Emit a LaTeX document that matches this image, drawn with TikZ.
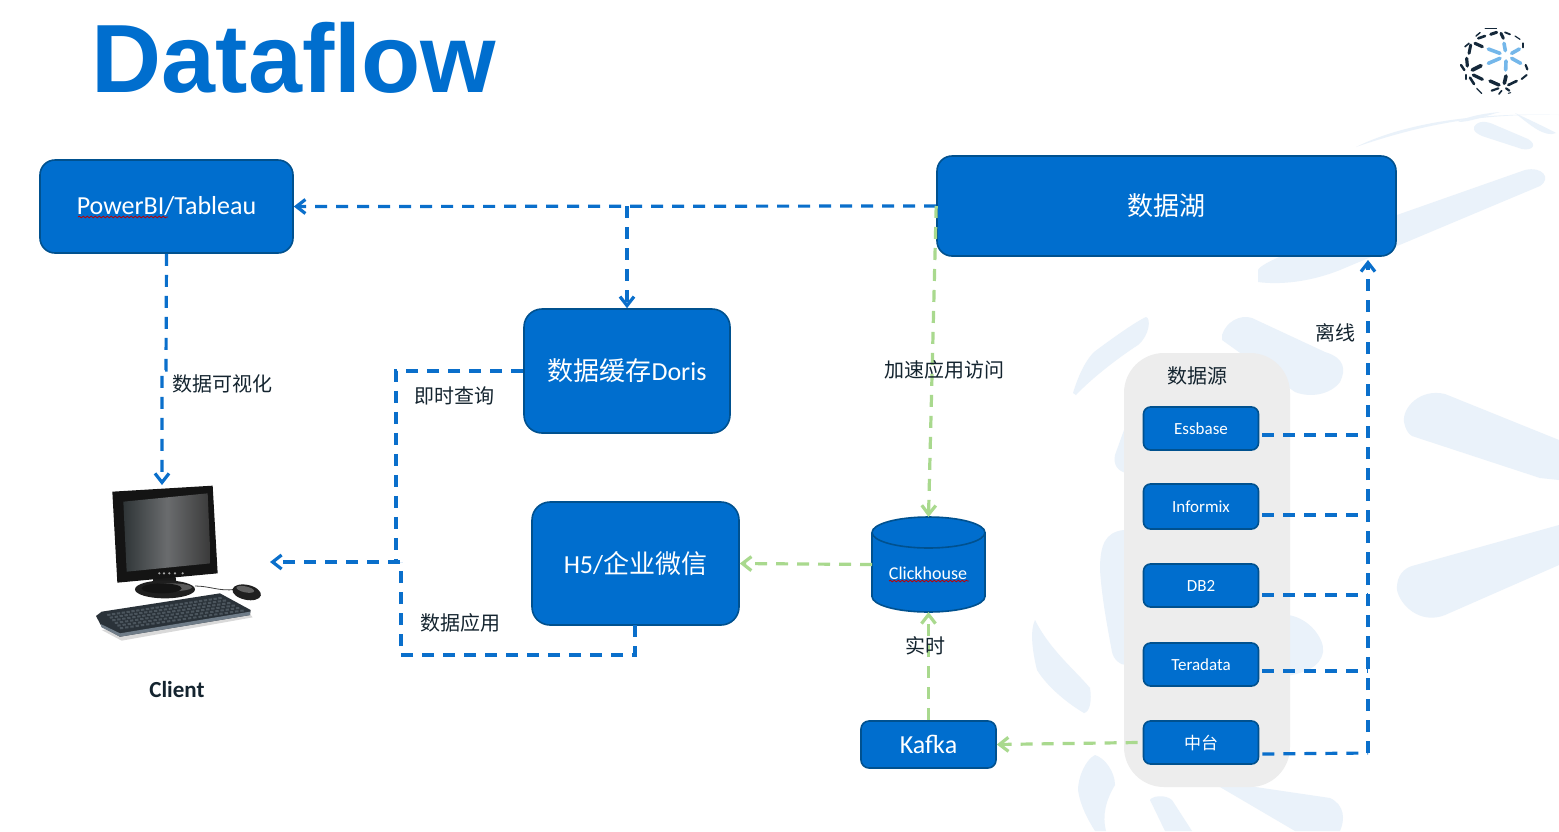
\documentclass[tikz,border=0pt]{standalone}
\usepackage{fontspec}
\setmainfont{Carlito}
\newfontfamily\cjkf{Noto Sans CJK SC}
\newfontfamily\titlef{Liberation Sans}
\usetikzlibrary{arrows.meta,decorations.pathmorphing,calc}
\definecolor{nodeblue}{HTML}{006ECE}
\definecolor{nodeedge}{HTML}{00518F}
\definecolor{flowblue}{HTML}{0A6FCB}
\definecolor{flowgreen}{HTML}{A9D98E}
\definecolor{blobc}{HTML}{EAF2FA}
\definecolor{panelc}{HTML}{EDEDED}
\definecolor{inkc}{HTML}{14242F}
\definecolor{logod}{HTML}{14283A}
\definecolor{logob}{HTML}{74B7EA}
\definecolor{kbbody}{HTML}{2A3239}
\definecolor{kbedge}{HTML}{6F7C88}
\definecolor{kbkey}{HTML}{4B555D}
\definecolor{scrl}{HTML}{2F3537}
\definecolor{scrr}{HTML}{3A3A3A}
\definecolor{scrm}{HTML}{6A6C6E}
\tikzset{
 box/.style={draw=nodeedge,line width=1.6pt,fill=nodeblue,text=white,rounded corners=#1,align=center,inner sep=0pt},
 box/.default=15pt,
 src/.style={box=7pt,minimum width=115pt,minimum height=43pt,font=\fontsize{17}{18}\selectfont},
 bluef/.style={draw=flowblue,line width=3.2pt,dash pattern=on 12pt off 9pt},
 greenf/.style={draw=flowgreen,line width=3.2pt,dash pattern=on 12pt off 9pt},
 tip/.style={-{Straight Barb[length=9pt,width=14pt,line width=3.2pt]}},
 lab/.style={text=inkc,inner sep=0pt,font=\fontsize{20}{22}\selectfont\cjkf},
 blob/.style={fill=blobc,draw=none},
 wavy/.style={draw=red!75!black,line width=.8pt,decorate,decoration={snake,amplitude=.8pt,segment length=4pt}}
}
\begin{document}
\begin{tikzpicture}[x=1pt,y=-1pt]
\useasboundingbox (0,0) rectangle (1559,831);
\fill[white] (0,0) rectangle (1559,831);
% watermark
\fill[blob] (1356,147) .. controls (1400,125) and (1470,112) .. (1559,115) .. controls (1480,113) and (1420,125) .. (1356,147) -- cycle;
\fill[blob] (1458,122) .. controls (1470,115) and (1490,113) .. (1500,112) .. controls (1485,116) and (1470,122) .. (1458,122) -- cycle;
\fill[blob] (1515,113) .. controls (1530,120) and (1555,132) .. (1556,133) .. controls (1545,138) and (1530,125) .. (1515,113) -- cycle;
\fill[blob] (1474,127) .. controls (1478,120) and (1487,121) .. (1495,125) -- (1528,139) .. controls (1538,145) and (1532,151) .. (1522,149) -- (1482,136) .. controls (1476,133) and (1473,131) .. (1474,127) -- cycle;
\fill[blob] (1258,282) -- (1258,270) .. controls (1262,262) and (1300,248) .. (1340,235) -- (1525,170) .. controls (1542,166) and (1552,178) .. (1540,186) -- (1340,270) .. controls (1310,282) and (1280,285) .. (1258,282) -- cycle;
\fill[blob] (1222,335) .. controls (1226,322) and (1240,314) .. (1252,318) -- (1325,352) .. controls (1345,358) and (1346,370) .. (1340,382) .. controls (1330,395) and (1310,398) .. (1295,392) -- (1222,340) -- cycle;
\fill[blob] (1073,393) .. controls (1080,370) and (1088,358) .. (1094,352) .. controls (1110,340) and (1135,322) .. (1146,317) .. controls (1151,318) and (1150,335) .. (1138,345) .. controls (1115,360) and (1090,380) .. (1076,395) -- cycle;
\fill[blob] (1404,422) .. controls (1402,408) and (1420,388) .. (1445,394) -- (1559,440) -- (1559,480) -- (1540,478) -- (1412,436) .. controls (1408,434) and (1405,428) .. (1404,422) -- cycle;
\fill[blob] (1397,590) .. controls (1396,575) and (1405,568) .. (1412,566) -- (1559,525) -- (1559,565) -- (1445,615) .. controls (1420,625) and (1400,605) .. (1397,590) -- cycle;
\fill[blob] (1124,530) .. controls (1105,532) and (1100,545) .. (1100,570) .. controls (1102,600) and (1108,630) .. (1112,652) .. controls (1114,660) and (1120,665) .. (1126,665) -- cycle;
\fill[blob] (1124,430) -- (1115,455) .. controls (1113,465) and (1118,471) .. (1126,473) -- cycle;
\fill[blob] (1035,620) .. controls (1030,630) and (1032,650) .. (1037,670) .. controls (1048,688) and (1070,705) .. (1084,713) .. controls (1090,712) and (1092,700) .. (1090,688) .. controls (1075,670) and (1050,650) .. (1035,620) -- cycle;
\fill[blob] (1288,615) .. controls (1310,618) and (1325,640) .. (1323,652) .. controls (1320,668) and (1305,672) .. (1288,676) -- cycle;
\fill[blob] (1095,755) .. controls (1085,760) and (1078,778) .. (1078,790) .. controls (1080,805) and (1088,820) .. (1095,831) -- (1106,831) .. controls (1102,815) and (1106,800) .. (1115,785) .. controls (1115,772) and (1105,758) .. (1095,755) -- cycle;
\fill[blob] (1150,800) .. controls (1152,796) and (1165,794) .. (1172,800) -- (1192,831) -- (1165,831) -- cycle;
\fill[blob] (1208,780) -- (1330,798) .. controls (1345,805) and (1345,820) .. (1340,831) -- (1295,831) -- cycle;
% panel
\node[fill=panelc,rounded corners=40pt,minimum width=166pt,minimum height=434pt,inner sep=0pt] (panel) at (1207,570) {};
% title
\node[text=nodeblue,inner sep=0pt,font=\fontsize{97}{100}\selectfont\titlef\bfseries] (title) at (294,58) {Dataflow};
% logo
\begin{scope}[shift={(1340,0)},x=1/3*1pt,y=-1/3*1pt,line cap=round]
\foreach \a/\b/\c/\d/\w in {452/103/470/97/3,483/100/490/115/3,495/97/510/103/1.8,525/108/540/118/1.2,415/115/435/108/2.6,405/130/427/140/3.2,408/108/420/98/1.4,392/135/387/160/3,375/140/387/130/1.6,548/130/548/142/2.2,380/175/382/198/3.2,363/195/373/210/2.4,397/210/423/197/3.8,377/225/377/237/2.2,390/233/402/252/2.6,400/225/427/238/3.2,450/243/477/255/3.4,498/228/493/250/3.6,505/255/530/243/2.6,545/237/560/225/2,557/195/562/208/2.2,455/272/475/265/2.2,477/282/485/272/1.6,498/265/508/272/2.2,410/265/425/280/1.2,505/280/512/278/1,435/85/470/85/.6}
 \draw[logod,line width=\w pt] (\a,\b) -- (\c,\d);
\foreach \a/\b/\c/\d in {445/147/480/160,492/130/496/152,515/160/538/147,515/175/542/190,498/183/497/210,445/190/480/175}
 \draw[logob,line width=3.6pt] (\a,\b) -- (\c,\d);
\end{scope}
% computer
\begin{scope}[shift={(60,460)},x=1/3*1pt,y=-1/3*1pt]
\fill[black!15] (125,510) -- (570,462) -- (578,472) -- (185,542) -- cycle;
\fill[black!90] (280,345) -- (345,340) -- (352,385) -- (278,390) -- cycle;
\fill[black!88] (315,388) ellipse [x radius=30pt,y radius=9pt];
\fill[black!65] (330,382) ellipse [x radius=22pt,y radius=4pt];
\fill[black!92] (305,385) ellipse [x radius=20pt,y radius=5pt];
\draw[black!75,line width=.8pt] (405,378) .. controls (450,378) and (480,395) .. (525,388);
\fill[black!88,rotate around={-12:(560,397)}] (560,397) ellipse [x radius=14.5pt,y radius=7.5pt];
\fill[black!62,rotate around={-12:(556,388)}] (556,388) ellipse [x radius=9pt,y radius=3pt];
\fill[black!92] (157,95) -- (458,77) -- (473,340) -- (172,368) -- cycle;
\shade[left color=scrl,right color=scrr,middle color=scrm] (190,125) -- (443,100) -- (452,310) -- (200,335) -- cycle;
\foreach \xx in {298,312,328,345,368} \fill[black!35] (\xx,340) circle [radius=1.2pt];
\fill[kbbody] (108,468) -- (125,455) -- (480,400) -- (572,450) -- (570,465) -- (180,530) -- (125,500) -- cycle;
\fill[kbedge] (122,492) -- (180,520) -- (570,455) -- (570,465) -- (180,530) -- (125,502) -- cycle;
\foreach \r in {0,...,5}{
 \foreach \k in {0,...,23}{
  \pgfmathsetmacro\u{(\k+.5)/24}
  \pgfmathsetmacro\v{(\r+.5)/6}
  \pgfmathsetmacro\px{135+\u*345+\v*(45+\u*35)}
  \pgfmathsetmacro\py{462-\u*52+\v*(48-\u*3)}
  \fill[kbkey] (\px-5,\py-3) -- (\px+5,\py-4) -- (\px+6,\py+2) -- (\px-4,\py+3) -- cycle;
 }}
\end{scope}
% nodes
\node[box=15pt,minimum width=253pt,minimum height=93pt,font=\fontsize{26}{27}\selectfont] (bi) at (166.5,206.5) {PowerBI/Tableau};
\node[box=15pt,minimum width=459pt,minimum height=100pt,font=\fontsize{26}{30}\selectfont\cjkf] (lake) at (1166.5,206) {数据湖};
\node[box=18pt,minimum width=206pt,minimum height=124pt,font=\fontsize{26}{30}\selectfont] (doris) at (627,371) {{\cjkf 数据缓存}Doris};
\node[box=18pt,minimum width=207pt,minimum height=123pt,font=\fontsize{26}{30}\selectfont] (h5) at (635.5,563.5) {H5/{\cjkf 企业微信}};
% cylinder: empty named node fixes the anchors, the body is drawn on it
\node[minimum width=113pt,minimum height=95pt,inner sep=0pt,outer sep=0pt] (ch) at (928.5,564.5) {};
\fill[nodeblue,draw=nodeedge,line width=1.6pt] (928.5,596.5) ellipse [x radius=56.5pt,y radius=15.5pt];
\fill[nodeblue] (872,532.5) rectangle (985,596.5);
\draw[nodeedge,line width=1.6pt] (872,532.5) -- (872,596.5) (985,532.5) -- (985,596.5);
\fill[nodeblue,draw=nodeedge,line width=1.6pt] (928.5,532.5) ellipse [x radius=56.5pt,y radius=15.5pt];
\node[text=white,inner sep=0pt,font=\fontsize{18}{20}\selectfont] (chlabel) at (928,573) {Clickhouse};
\node[box=8pt,minimum width=135pt,minimum height=47pt,font=\fontsize{26}{28}\selectfont] (kafka) at (928.5,744.5) {Kafka};
\node[src] (s1) at (1201,428.5) {Essbase};
\node[src,minimum height=45pt] (s2) at (1201,506.5) {\raisebox{-1pt}{Informix}};
\node[src] (s3) at (1201,585.5) {DB2};
\node[src] (s4) at (1201,664.5) {Teradata};
\node[src,font=\fontsize{17}{18}\selectfont\cjkf] (s5) at (1201,742.5) {中台};
% spell-check underlines
\draw[wavy] (78,217) -- (168,217);
\draw[wavy] (889,581) -- (969,581);
% named joints and free ends
\coordinate (clientTop) at (162,485);
\coordinate (clientRight) at (270,562);
\coordinate (busTop) at (1368,260);
\coordinate (busBottom) at (1368,753);
\coordinate (j1) at (396,562);
% blue flows
\draw[bluef,tip] (lake.west) -- (bi.east);
\draw[bluef,tip] (doris.north |- lake.west) -- (doris.north);
\draw[bluef,tip] (bi.south) -- (166,370) -- (162,370) -- (clientTop);
\draw[bluef] (doris.west) -- (396,371) -- (j1);
\draw[bluef,tip] (400,562) -- (clientRight);
\draw[bluef] (635,625) -- (635,655) -- (401,655) -- (401,562);
\draw[bluef,tip] (busBottom) -- (busTop);
\draw[bluef] ($(s1.east)+(3,6.5)$) -- (1368,435);
\draw[bluef] ($(s2.east)+(3,8.5)$) -- (1368,515);
\draw[bluef] ($(s3.east)+(3,9.5)$) -- (1368,595);
\draw[bluef] ($(s4.east)+(3,6.5)$) -- (1368,671);
\draw[bluef] ($(s5.east)+(3,11.5)$) -- (busBottom);
% green flows
\draw[greenf,tip] (lake.west) -- (ch.north);
\draw[greenf,tip] (ch.west) -- (h5.east);
\draw[greenf,tip] (kafka.north) -- (ch.south);
\draw[greenf,tip] ($(s5.west)+(-5,0)$) -- (kafka.east);
% labels
\node[lab] (l1) at (222,383.5) {数据可视化};
\node[lab] (l2) at (454.5,395.5) {即时查询};
\node[lab] (l3) at (460.5,622.5) {数据应用};
\node[lab] (l4) at (944.5,369.5) {加速应用访问};
\node[lab] (l5) at (925,645.5) {实时};
\node[lab] (l6) at (1335,332.5) {离线};
\node[lab] (l7) at (1197.5,376) {数据源};
\node[text=inkc,inner sep=0pt,font=\fontsize{23}{25}\selectfont\bfseries] (client) at (177,689.5) {Client};
\end{tikzpicture}
\end{document}
